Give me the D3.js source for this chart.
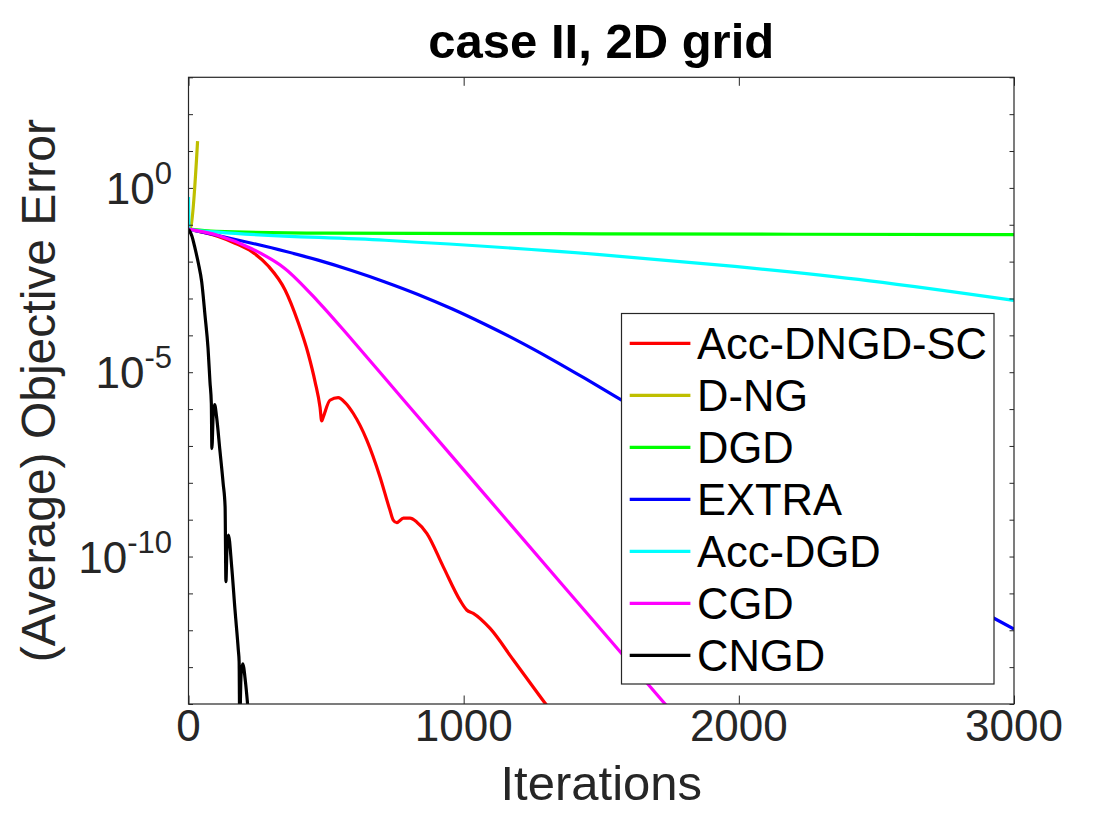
<!DOCTYPE html>
<html>
<head>
<meta charset="utf-8">
<script src="https://cdn.jsdelivr.net/npm/d3@7"></script>
<style>
  body { margin: 0; background: #ffffff; }
  text { font-family: "Liberation Sans", Arial, Helvetica, sans-serif; }
</style>
</head>
<body>
<div id="chart"></div>
<script>

//Series data: iterations and log10 of the (average) objective error
let accDngdScIter = [0, 108, 169, 230, 290, 351, 399, 435, 460, 478, 484, 490, 514, 544, 570, 599, 648, 696, 732, 744, 757, 781, 805, 829, 866, 926, 987, 1011, 1035, 1096, 1180, 1296, 1400];
let accDngdScLog  = [-1.12, -1.32, -1.50, -1.73, -2.12, -2.77, -3.66, -4.50, -5.26, -5.95, -6.32, -6.21, -5.76, -5.69, -5.83, -6.12, -6.84, -7.84, -8.74, -9.01, -9.08, -8.96, -8.96, -9.06, -9.37, -10.28, -11.19, -11.45, -11.54, -11.95, -12.80, -13.98, -15.0];

let dngIter = [0, 8, 33];
let dngLog  = [-1.12, -1.06, 1.27];

let dgdIter = [0, 100, 500, 1500, 3000];
let dgdLog  = [-1.12, -1.18, -1.225, -1.245, -1.27];

let extraIter = [0, 107, 230, 351, 471, 593, 714, 834, 957, 1077, 1197, 1320, 1441, 1574, 1800, 2100, 2400, 2700, 2924, 3000];
let extraLog  = [-1.12, -1.29, -1.50, -1.72, -1.96, -2.24, -2.55, -2.89, -3.28, -3.70, -4.15, -4.65, -5.17, -5.76, -6.78, -8.12, -9.43, -10.72, -11.66, -11.97];

let accDgdIter = [0, 2, 107, 714, 1495, 1985, 2476, 3000];
let accDgdLog  = [-0.25, -1.13, -1.20, -1.42, -1.81, -2.13, -2.52, -3.05];

let cgdIter = [0, 108, 230, 351, 472, 594, 715, 824, 1000, 1350, 1574, 1732, 1850];
let cgdLog  = [-1.12, -1.29, -1.65, -2.19, -3.09, -4.12, -5.17, -6.12, -7.65, -10.69, -12.63, -14.0, -15.0];

let cngdIter = [0, 12, 24, 36, 48, 60, 71, 78, 83, 85, 90, 95, 102, 114, 126, 133, 136, 140, 145, 157, 169, 181, 184, 186, 191, 197, 207, 217];
let cngdLog  = [-1.12, -1.30, -1.65, -2.05, -2.55, -3.46, -4.35, -5.26, -5.85, -7.07, -6.10, -5.88, -6.21, -7.11, -8.02, -8.65, -10.68, -9.70, -9.42, -10.28, -11.45, -12.53, -12.85, -14.6, -13.20, -12.91, -13.40, -14.20];

//Labels
let seriesNames = ["Acc-DNGD-SC", "D-NG", "DGD", "EXTRA", "Acc-DGD", "CGD", "CNGD"];
let xTicks = [0, 1000, 2000, 3000];
let yLabelExps = [0, -5, -10];
let yTickExps = d3.range(-14, 4);

let makeChart = function() {

    //Width and Height
    let width = 1120;
    let height = 840;
    let left = 188.5, right = 1014, top = 77.3, bottom = 704;

    //Colors
    let colors = ["#ff0000", "#bfbf00", "#00ff00", "#0000ff", "#00ffff", "#ff00ff", "#000000"];
    let axisColor = "#262626";

    let series = [
        [accDngdScIter, accDngdScLog],
        [dngIter, dngLog],
        [dgdIter, dgdLog],
        [extraIter, extraLog],
        [accDgdIter, accDgdLog],
        [cgdIter, cgdLog],
        [cngdIter, cngdLog]
    ].map(s => s[0].map((it, i) => ({ it: it, v: Math.pow(10, s[1][i]) })));

    //Scales
    let x = d3.scaleLinear().domain([0, 3000]).range([left, right]);
    let y = d3.scaleLog().domain([1e-14, 1e3]).range([bottom, top]);

    //Create svg
    let chart = d3.select("#chart")
      .append("svg")
      .attr("width", width)
      .attr("height", height);

    chart.append("rect")
      .attr("width", width)
      .attr("height", height)
      .attr("fill", "white");

    chart.append("defs")
      .append("clipPath")
      .attr("id", "plotClip")
      .append("rect")
      .attr("x", left)
      .attr("y", top)
      .attr("width", right - left)
      .attr("height", bottom - top);

    //Lines
    let line = d3.line()
      .x(d => x(d.it))
      .y(d => y(d.v))
      .curve(d3.curveMonotoneX);

    chart.append("g")
      .attr("clip-path", "url(#plotClip)")
      .selectAll("path")
      .data(series)
      .enter()
      .append("path")
      .attr("d", line)
      .attr("fill", "none")
      .attr("stroke", (d, i) => colors[i])
      .attr("stroke-width", 3.2)
      .attr("stroke-linejoin", "round");

    //Axes (box with ticks on all sides)
    let xTickLen = 8.5, yTickLen = 4.5;

    chart.append("g")
      .attr("transform", "translate(0," + bottom + ")")
      .call(d3.axisBottom(x).tickValues(xTicks).tickSizeInner(-xTickLen).tickSizeOuter(0).tickFormat(""));
    chart.append("g")
      .attr("transform", "translate(0," + top + ")")
      .call(d3.axisTop(x).tickValues(xTicks).tickSizeInner(-xTickLen).tickSizeOuter(0).tickFormat(""));
    chart.append("g")
      .attr("transform", "translate(" + left + ",0)")
      .call(d3.axisLeft(y).tickValues(yTickExps.map(e => Math.pow(10, e))).tickSizeInner(-yTickLen).tickSizeOuter(0).tickFormat(""));
    chart.append("g")
      .attr("transform", "translate(" + right + ",0)")
      .call(d3.axisRight(y).tickValues(yTickExps.map(e => Math.pow(10, e))).tickSizeInner(-yTickLen).tickSizeOuter(0).tickFormat(""));

    chart.selectAll(".domain").remove();
    chart.selectAll(".tick line").attr("stroke", axisColor).attr("stroke-width", 1);

    chart.append("rect")
      .attr("x", left)
      .attr("y", top)
      .attr("width", right - left)
      .attr("height", bottom - top)
      .attr("fill", "none")
      .attr("stroke", axisColor)
      .attr("stroke-width", 1.2);

    //X tick labels
    chart.append("g")
      .selectAll("text")
      .data(xTicks)
      .enter()
      .append("text")
      .attr("x", d => x(d))
      .attr("y", 741)
      .attr("text-anchor", "middle")
      .attr("font-size", 44)
      .attr("fill", axisColor)
      .text(d => d);

    //Y tick labels with superscript exponents
    let yLab = chart.append("g")
      .selectAll("text")
      .data(yLabelExps)
      .enter()
      .append("text")
      .attr("x", 172)
      .attr("y", d => y(Math.pow(10, d)) + 16)
      .attr("text-anchor", "end")
      .attr("font-size", 44)
      .attr("fill", axisColor);
    yLab.append("tspan").text("10");
    yLab.append("tspan")
      .attr("font-size", 31)
      .attr("dy", -20)
      .text(d => d === 0 ? "0" : "-" + Math.abs(d));

    //Axis labels
    chart.append("text")
      .attr("x", (left + right) / 2)
      .attr("y", 800)
      .attr("text-anchor", "middle")
      .attr("font-size", 49)
      .attr("fill", axisColor)
      .text("Iterations");

    chart.append("text")
      .attr("transform", "translate(55," + ((top + bottom) / 2) + ") rotate(-90)")
      .attr("text-anchor", "middle")
      .attr("font-size", 48)
      .attr("fill", axisColor)
      .text("(Average) Objective Error");

    //Title
    chart.append("text")
      .attr("x", (left + right) / 2)
      .attr("y", 58)
      .attr("text-anchor", "middle")
      .attr("font-size", 49)
      .attr("font-weight", "bold")
      .attr("fill", "#000000")
      .text("case II, 2D grid");

    //Legend
    let legX = 621.5, legY = 313.5, legW = 372.5, legH = 370.5;
    let legend = chart.append("g");
    legend.append("rect")
      .attr("x", legX)
      .attr("y", legY)
      .attr("width", legW)
      .attr("height", legH)
      .attr("fill", "white")
      .attr("stroke", axisColor)
      .attr("stroke-width", 1.2);

    let rows = legend.selectAll("g.row")
      .data(seriesNames)
      .enter()
      .append("g")
      .attr("class", "row")
      .attr("transform", (d, i) => "translate(0," + (343.3 + i * 52) + ")");

    rows.append("line")
      .attr("x1", 629.7)
      .attr("x2", 690.4)
      .attr("stroke", (d, i) => colors[i])
      .attr("stroke-width", 3.2);

    rows.append("text")
      .attr("x", 697)
      .attr("y", 15.5)
      .attr("font-size", 43.5)
      .attr("fill", "#000000")
      .text(d => d);
}

makeChart();
</script>
</body>
</html>
